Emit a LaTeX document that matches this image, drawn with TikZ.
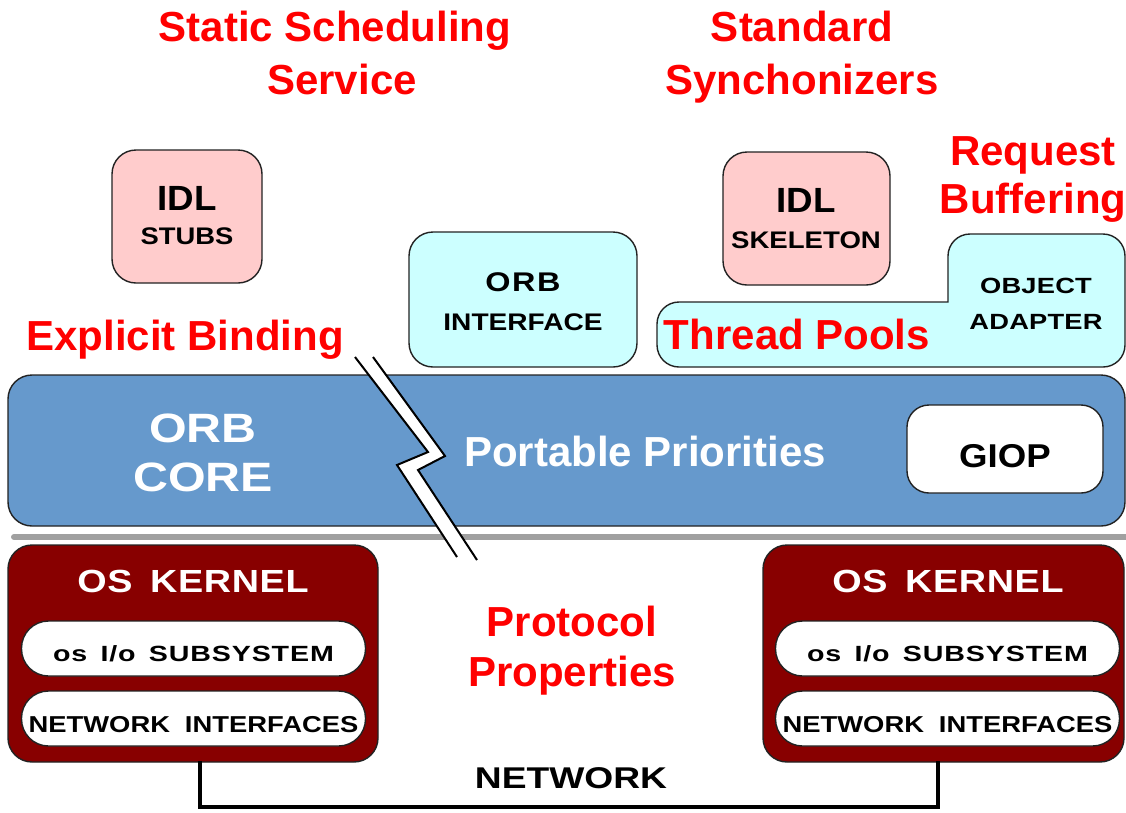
\documentclass[tikz,border=0pt]{standalone}
\usepackage{fontspec}
\setmainfont{Liberation Sans}
\definecolor{stubpink}{HTML}{FFCCCC}
\definecolor{ifcyan}{HTML}{CCFFFF}
\definecolor{coreblue}{HTML}{6699CC}
\definecolor{kernelred}{HTML}{880000}
\definecolor{sepgray}{HTML}{A0A0A0}
\definecolor{edge}{HTML}{222222}
% size, horizontal stretch and letter spacing of a label
\newcommand\lsp[3]{\fontsize{#1}{#1}\selectfont\addfontfeatures{FakeStretch=#2,LetterSpace=#3}}
% wider gap between words in the kernel labels
\newcommand\wgap{\hspace{0.6em}}
\begin{document}
\begin{tikzpicture}[x=1pt,y=-1pt,
  box/.style={draw=edge, line width=1.4pt, rounded corners=24pt, inner sep=0pt},
  pill/.style={draw=edge, line width=1.4pt, fill=white, rounded corners=27pt,
    minimum width=344pt, minimum height=55pt, inner sep=0pt},
  txt/.style={inner sep=0pt, anchor=base},
  note/.style={txt, text=red, font=\bfseries\lsp{42}{1}{0}},
  net/.style={line width=4pt, line cap=rect}]
\useasboundingbox (0,0) rectangle (1126,812);

% ORB core and the separator below it
\node[box, fill=coreblue, minimum width=1117pt, minimum height=151pt] (core) at (566.5,450.5) {};
\draw[sepgray, line width=6pt, line cap=round] (14,537) -- (1126,537);
\node[box, fill=white, rounded corners=22pt, minimum width=196pt, minimum height=88pt] (giop) at (1005,449) {};

% stubs, interface, skeleton
\node[box, fill=stubpink, minimum width=150pt, minimum height=133pt] (stubs) at (187,216.5) {};
\node[box, fill=ifcyan, minimum width=228pt, minimum height=135pt] (orbif) at (523,299.5) {};
\node[box, fill=stubpink, minimum width=167pt, minimum height=133pt] (skel) at (806.5,218.5) {};

% object adapter with the thread pool strip (sharp inner corner)
\draw[fill=ifcyan, draw=edge, line width=1.4pt, line cap=rect]
  (948,302) [rounded corners=22pt] -- (657,302) -- (657,367) -- (1125,367)
  -- (1125,234) -- (948,234) -- (948,302);

% operating system kernels
\node[box, fill=kernelred, minimum width=370pt, minimum height=217pt] (kl) at (193,653.5) {};
\node[box, fill=kernelred, minimum width=361pt, minimum height=217pt] (kr) at (943.5,653.5) {};
\node[pill] (iol) at (193.5,648.5) {};
\node[pill] (nil) at (193.5,718.5) {};
\node[pill] (ior) at (947.5,648.5) {};
\node[pill] (nir) at (947.5,718.5) {};

% network between the two hosts
\coordinate (nl) at (200,807);
\coordinate (nr) at (938,807);
\draw[net] (kl.south -| nl) -- (nl) -- (nr) -- (kr.south -| nr);

% break through the layers
\fill[white] (355,357) -- (428,452) -- (397,465) -- (457,557)
  -- (477,560) -- (418,470) -- (445,456) -- (373,357) -- cycle;
\draw[line width=2pt, line join=miter] (355,357) -- (428,452) -- (397,465) -- (457,557);
\draw[line width=2pt, line join=miter] (373,357) -- (445,456) -- (418,470) -- (477,560);

% box labels
\node[txt, font=\bfseries\lsp{35}{1.05}{0}] (t1) at (187,210) {IDL};
\node[txt, font=\bfseries\lsp{24}{1.14}{0}] (t2) at (187,244) {STUBS};
\node[txt, font=\bfseries\lsp{27}{1.2}{6}] (t3) at (523,291) {ORB};
\node[txt, font=\bfseries\lsp{24}{1.17}{0}] (t4) at (523,330) {INTERFACE};
\node[txt, font=\bfseries\lsp{35}{1.05}{0}] (t5) at (806,212) {IDL};
\node[txt, font=\bfseries\lsp{24}{1.15}{0}] (t6) at (806,248) {SKELETON};
\node[txt, font=\bfseries\lsp{22}{1.24}{1}] (t7) at (1036,293) {OBJECT};
\node[txt, font=\bfseries\lsp{22}{1.24}{1}] (t8) at (1036,329) {ADAPTER};
\node[txt, text=white, font=\bfseries\lsp{41}{1.18}{0}] (t9) at (203,442) {ORB};
\node[txt, text=white, font=\bfseries\lsp{41}{1.18}{0}] (t10) at (203,491) {CORE};
\node[txt, font=\bfseries\lsp{33}{1.11}{0}] (t11) at (1005,467) {GIOP};
\node[txt, text=white, font=\bfseries\lsp{32}{1.18}{2}] (t12) at (193,592) {OS\hspace{0.55em}KERNEL};
\node[txt, text=white, font=\bfseries\lsp{32}{1.18}{2}] (t13) at (948,592) {OS\hspace{0.55em}KERNEL};
\node[txt, font=\bfseries\lsp{22}{1.3}{4}] (t14) at (193.5,661) {os\wgap I/o\wgap SUBSYSTEM};
\node[txt, font=\bfseries\lsp{23}{1.19}{0}] (t15) at (193.5,732) {NETWORK\hspace{0.65em}INTERFACES};
\node[txt, font=\bfseries\lsp{22}{1.3}{4}] (t16) at (947.5,661) {os\wgap I/o\wgap SUBSYSTEM};
\node[txt, font=\bfseries\lsp{23}{1.19}{0}] (t17) at (947.5,732) {NETWORK\hspace{0.65em}INTERFACES};
\node[txt, font=\bfseries\lsp{30}{1.24}{0}] (t18) at (571,788) {NETWORK};
\node[txt, text=white, font=\bfseries\lsp{42}{1}{0}] (t19) at (645,466) {Portable Priorities};

% annotations
\node[note] (n1) at (335,41) {Static Scheduling};
\node[note] (n2) at (342,94) {Service};
\node[note] (n3) at (802,41) {Standard};
\node[note] (n4) at (802,94) {Synchonizers};
\node[note] (n5) at (1033,165) {Request};
\node[note] (n6) at (1033,213) {Buffering};
\node[note] (n7) at (185,350) {Explicit Binding};
\node[note] (n8) at (797,349) {Thread Pools};
\node[note] (n9) at (572,636) {Protocol};
\node[note] (n10) at (572,686) {Properties};
\end{tikzpicture}
\end{document}
